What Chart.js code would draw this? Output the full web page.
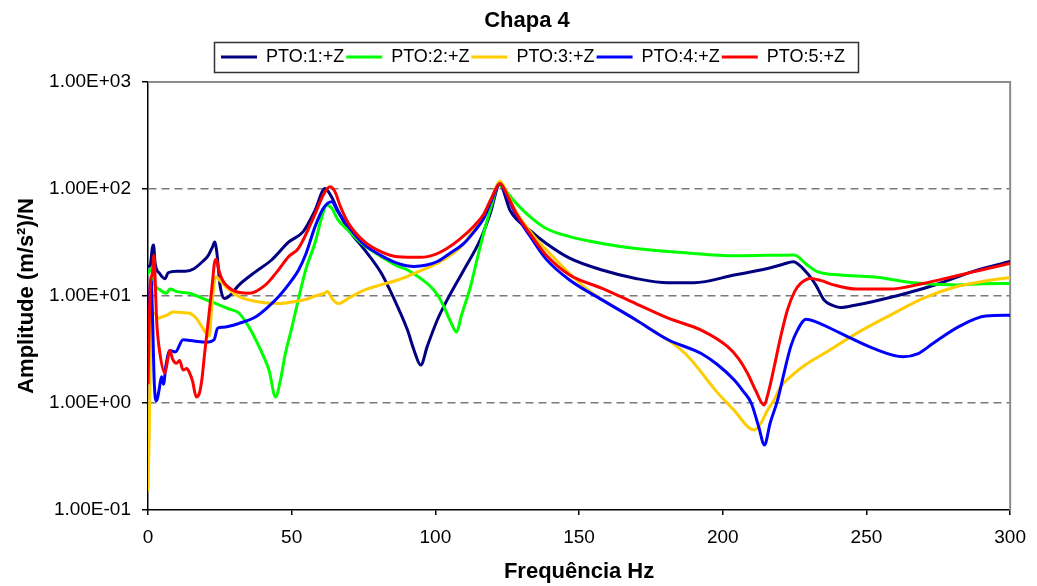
<!DOCTYPE html>
<html>
<head>
<meta charset="utf-8">
<script src="https://cdn.jsdelivr.net/npm/chart.js@4.4.1/dist/chart.umd.min.js"></script>
<style>
  html, body { margin: 0; padding: 0; background: #fff; }
  #wrap { width: 1037px; height: 586px; position: relative; }
</style>
</head>
<body>
<div id="wrap"><canvas id="chapaChart"></canvas></div>
<script>
// valores (frequência em Hz, amplitude em (m/s²)/N)
const pto1Freq = [0, 0.7, 1.5, 1.9, 2.5, 4, 5.9, 7, 10, 13, 16, 19, 21, 22.5, 23.2, 24, 25, 26.5, 28.1, 31.7, 37.5, 43, 49, 54, 58, 61.6, 63.9, 66.2, 69.7, 75.4, 81.2, 86.9, 90.3, 92.6, 94.9, 97.2, 100.7, 104.1, 109.9, 115.6, 119.1, 122.4, 126, 132.9, 138.6, 146.7, 158, 169.7, 181, 190, 204, 215.6, 221, 224.5, 229.4, 232.5, 235.2, 238, 240.9, 246, 252.4, 263.9, 275.4, 286.9, 300];
const pto1Amp = [19, 19, 28, 30, 20, 16.3, 14.5, 16.5, 17, 17, 18, 21, 24, 29, 32, 25, 13, 9.5, 9.9, 12.7, 16.9, 21.7, 32, 40, 62, 101, 84, 62, 42, 27, 16.3, 7.9, 4.8, 3.1, 2.26, 3.4, 6, 9.2, 17.5, 33.4, 59, 111, 63, 41, 31, 22.6, 17.5, 14.6, 13.3, 13.3, 15.7, 18.1, 19.8, 20.9, 16.3, 12.5, 9.2, 8.2, 7.8, 8.2, 8.9, 10.6, 13.1, 16.9, 21];

const pto2Freq = [0, 1, 2.4, 4, 6.4, 7.6, 10, 14.5, 19, 23.7, 28, 31.7, 35, 37.5, 40, 42.1, 44.4, 46, 47.8, 50, 52.4, 55, 58.2, 60.5, 62.2, 64, 66, 69.7, 75, 81.2, 86, 90.3, 95, 98.4, 101, 103, 105.5, 107.4, 109, 112.2, 114.5, 116.8, 119.5, 122, 124, 127.1, 132, 138.6, 146.7, 158, 169.7, 186.9, 204, 215, 224.8, 229.4, 232.9, 240.9, 252.4, 266.2, 281.1, 290, 300];
const pto2Amp = [16, 18, 12.7, 11.5, 10.6, 11.6, 11, 10.6, 9.5, 8.5, 7.6, 6.9, 5.2, 3.9, 2.8, 2.03, 1.14, 1.6, 2.9, 5, 9.5, 18, 32, 55, 71, 66, 52, 41, 30, 23.3, 19.5, 17.5, 14.5, 12.2, 10, 7.9, 5.6, 4.6, 6.5, 12.2, 22, 38.6, 70, 109, 100, 79, 58, 42.7, 35.9, 31, 27.8, 25.4, 23.8, 24, 24.2, 19.5, 16.9, 15.7, 15.1, 13.3, 12.7, 13, 13.1];

const pto3Freq = [0, 0.4, 0.9, 1.5, 2.4, 3.5, 5, 6.5, 8.7, 12, 14.5, 16.8, 18.5, 20.2, 21.3, 22.2, 23.2, 23.7, 25, 27.1, 31.7, 37.5, 45.5, 51.3, 55, 58.2, 61, 62.5, 64, 66.2, 70, 75.4, 81, 86.9, 92, 98.4, 103, 107, 110, 113, 116.8, 119.5, 122.5, 125, 128, 133, 138.6, 152.4, 169.7, 186.9, 198.4, 204, 209.3, 211, 213.3, 215.5, 217.9, 220, 224, 229, 235.2, 246.7, 258.2, 269.7, 281.1, 290, 300];
const pto3Amp = [0.15, 0.5, 3, 6.5, 6.9, 6.2, 6.4, 6.6, 7.1, 7, 6.9, 6.2, 5.3, 4.5, 4.2, 8, 14, 15.1, 14, 12.2, 9.9, 8.9, 8.5, 8.9, 9.3, 10, 10.5, 11, 9.5, 8.5, 9.6, 11.4, 12.7, 14.1, 16, 18.9, 22, 26, 31, 40, 55, 80, 118, 90, 62, 40, 27, 11.8, 6, 2.9, 1.23, 0.85, 0.58, 0.56, 0.65, 0.85, 1.07, 1.4, 1.8, 2.3, 2.9, 4.5, 6.6, 9.5, 12.2, 13.6, 14.9];

const pto4Freq = [0, 0.5, 1.1, 1.6, 2.2, 3, 3.8, 4.7, 5.4, 6.2, 7.6, 9.5, 12.2, 16, 20.2, 23, 24.2, 26, 31.7, 37.5, 42, 45.5, 50, 52.4, 55, 58.2, 61, 63.9, 66, 69.7, 75.4, 81, 86.9, 92.6, 97, 100.7, 105, 109.9, 113.5, 116.8, 119.5, 122.5, 125, 128, 133, 138.6, 146.7, 158, 169.7, 181, 192.5, 198, 204, 207, 209.9, 212.5, 214.5, 216.5, 219.1, 221.5, 223.7, 226, 229, 232, 240.9, 252.4, 262.8, 268, 273.1, 282.3, 291.5, 300];
const pto4Amp = [5.2, 10, 14, 6, 1.5, 1.05, 1.3, 1.76, 1.5, 2.2, 3.1, 3.0, 3.9, 3.8, 3.7, 3.9, 5, 5.1, 5.55, 6.4, 8, 9.9, 14, 17.5, 25, 45, 66, 76, 62, 44.6, 30, 24, 20.2, 18.9, 19.5, 21, 25, 31, 40, 53, 78, 112, 85, 58, 36, 22, 14.1, 9.2, 6, 3.9, 2.9, 2.3, 1.64, 1.3, 1.0, 0.6, 0.405, 0.65, 1.07, 2, 3.4, 4.8, 6.06, 5.8, 4.5, 3.24, 2.71, 2.9, 3.6, 5.2, 6.5, 6.6];

const pto5Freq = [0, 0.4, 0.9, 1.5, 2.1, 2.5, 3, 4, 5.9, 6.8, 7.6, 8.5, 9.9, 11, 12.2, 13.5, 14.5, 15.5, 16.8, 17.9, 18.8, 19.7, 21.4, 22.5, 23.1, 23.8, 24.5, 25.9, 29.3, 35.2, 40.9, 45, 48.9, 52.4, 58.2, 61, 63.3, 65, 67, 69.7, 75.4, 81, 86.9, 94.9, 100, 104, 108.5, 113.3, 116.8, 119.5, 122.5, 125, 128, 133, 138.6, 146.7, 158, 169.7, 181, 192.5, 201.7, 205.5, 208.6, 211.5, 214.3, 216, 217.9, 220, 222.5, 225, 227.1, 230.6, 234, 238.6, 246.7, 258.2, 269.7, 281.1, 290, 300];
const pto5Amp = [1.5, 5, 14, 16, 24, 14, 6, 3.1, 1.9, 2.5, 3.1, 2.6, 2.35, 2.5, 2.03, 2.1, 1.9, 1.6, 1.14, 1.24, 1.7, 2.9, 7.4, 14, 20.2, 22, 18, 14.1, 11.4, 10.6, 12.7, 17, 23.3, 28, 59, 88, 105, 95, 68, 48, 32, 26, 23.3, 23, 24.5, 27.8, 34, 44.6, 58, 82, 112, 88, 60, 38, 24, 15.7, 11.8, 8.5, 6.2, 4.8, 3.36, 2.6, 1.9, 1.3, 0.96, 1.3, 2.18, 4, 7.4, 11, 13.1, 14.6, 14, 12.7, 11.6, 11.6, 13.1, 15.4, 17.5, 20.2];

const seriesNames = ['PTO:1:+Z', 'PTO:2:+Z', 'PTO:3:+Z', 'PTO:4:+Z', 'PTO:5:+Z'];
const seriesColors = ['#000080', '#00FF00', '#FFCC00', '#0000FF', '#FF0000'];
const yTickValues = [0.1, 1, 10, 100, 1000];

const FONT = "'Liberation Sans', Arial, sans-serif";

const toPoints = (freq, amp) => freq.map((f, i) => ({ x: f, y: amp[i] }));
const allSeries = [
    toPoints(pto1Freq, pto1Amp),
    toPoints(pto2Freq, pto2Amp),
    toPoints(pto3Freq, pto3Amp),
    toPoints(pto4Freq, pto4Amp),
    toPoints(pto5Freq, pto5Amp)
];

// formato Excel: 1.00E+02
const sciLabel = (v) => {
    const e = Math.round(Math.log10(v));
    const m = v / Math.pow(10, e);
    return m.toFixed(2) + 'E' + (e < 0 ? '-' : '+') + String(Math.abs(e)).padStart(2, '0');
};

// moldura da área do gráfico (topo e direita em cinza) e caixa da legenda
const frameAndLegendBox = {
    id: 'frameAndLegendBox',
    beforeLayout(chart) {
        const lg = chart.legend;
        if (lg && !lg._extraGap) {
            const fit = lg.fit;
            lg.fit = function () { fit.call(this); this.height += 6; };
            lg._extraGap = true;
        }
    },
    afterLayout(chart) {
        const lg = chart.legend;
        if (lg && lg.lineWidths) {
            const pad = lg.options.labels.padding;
            const startX = (lg.left + pad + lg.right - lg.lineWidths[0]) / 2;
            const d = 221 - startX;
            lg.left += d; lg.right += d;
        }
        const tb = chart.titleBlock;
        if (tb) {
            const d = 527 - (tb.left + tb.right) / 2;
            tb.left += d; tb.right += d;
        }
    },
    beforeDatasetsDraw(chart) {
        const { ctx, chartArea: a } = chart;
        ctx.save();
        ctx.strokeStyle = '#8c8c8c';
        ctx.lineWidth = 2;
        ctx.beginPath();
        ctx.moveTo(a.left, a.top);
        ctx.lineTo(a.right, a.top);
        ctx.lineTo(a.right, a.bottom);
        ctx.stroke();
        ctx.restore();
    },
    afterDraw(chart) {
        const lg = chart.legend;
        if (!lg || !lg.lineWidths) return;
        const { ctx } = chart;
        const pad = lg.options.labels.padding;
        const startX = (lg.left + pad + lg.right - lg.lineWidths[0]) / 2;
        const endX = startX + lg.lineWidths[0] - pad;
        const cy = lg.top + pad + lg.options.labels.font.size / 2;
        ctx.save();
        ctx.strokeStyle = '#333';
        ctx.lineWidth = 1.5;
        ctx.strokeRect(Math.round(startX - 7) + 0.5, Math.round(cy - 15) + 0.5, Math.round(endX - startX + 20), 30);
        ctx.restore();
    }
};

const ctx = document.getElementById('chapaChart').getContext('2d');

new Chart(ctx, {
    type: 'line',
    data: {
        datasets: allSeries.map((pts, i) => ({
            label: seriesNames[i],
            data: pts,
            borderColor: seriesColors[i],
            backgroundColor: seriesColors[i],
            borderWidth: 3,
            pointRadius: 0,
            fill: false,
            cubicInterpolationMode: 'monotone',
            // a última série fica por cima, como no Excel
            order: seriesNames.length - 1 - i
        }))
    },
    options: {
        responsive: true,
        maintainAspectRatio: false,
        animation: false,
        layout: { padding: { left: 0, right: 19, top: 0, bottom: 0 } },
        plugins: {
            title: {
                display: true,
                text: 'Chapa 4',
                color: '#000',
                font: { family: FONT, size: 22, weight: 'bold' },
                padding: { top: 8, bottom: 11.6 }
            },
            legend: {
                display: true,
                position: 'top',
                labels: {
                    color: '#000',
                    font: { family: FONT, size: 18 },
                    usePointStyle: true,
                    pointStyle: 'line',
                    pointStyleWidth: 36,
                    padding: 2,
                    sort: (a, b) => a.datasetIndex - b.datasetIndex
                }
            },
            tooltip: { enabled: false }
        },
        scales: {
            x: {
                type: 'linear',
                min: 0,
                max: 300,
                ticks: {
                    stepSize: 50,
                    color: '#000',
                    font: { family: FONT, size: 19 },
                    padding: 11,
                    maxRotation: 0
                },
                grid: {
                    drawOnChartArea: false,
                    drawTicks: true,
                    tickLength: 5,
                    tickColor: '#000',
                    lineWidth: 1.5
                },
                border: { display: true, color: '#000', width: 1.5 },
                title: {
                    display: true,
                    text: 'Frequência Hz',
                    color: '#000',
                    font: { family: FONT, size: 22, weight: 'bold' },
                    padding: { top: 0, bottom: 1 }
                },
                afterFit: (scale) => { scale.height = 76; }
            },
            y: {
                type: 'logarithmic',
                min: 0.1,
                max: 1000,
                afterBuildTicks: (scale) => {
                    scale.ticks = yTickValues.map(v => ({ value: v, major: true }));
                },
                ticks: {
                    color: '#000',
                    font: { family: FONT, size: 19 },
                    padding: 11,
                    callback: (v) => sciLabel(v)
                },
                grid: {
                    color: (c) => (c.tick && (c.tick.value === 0.1 || c.tick.value === 1000)) ? 'rgba(0,0,0,0)' : '#7a7a7a',
                    lineWidth: 1.5,
                    drawTicks: true,
                    tickLength: 6,
                    tickColor: '#000'
                },
                border: { display: true, color: '#000', width: 1.5, dash: [8, 5] },
                title: {
                    display: true,
                    text: 'Amplitude (m/s²)/N',
                    color: '#000',
                    font: { family: FONT, size: 22, weight: 'bold' },
                    padding: { top: 14, bottom: 0 }
                },
                afterFit: (scale) => { scale.width = 148; }
            }
        }
    },
    plugins: [frameAndLegendBox]
});
</script>
</body>
</html>
